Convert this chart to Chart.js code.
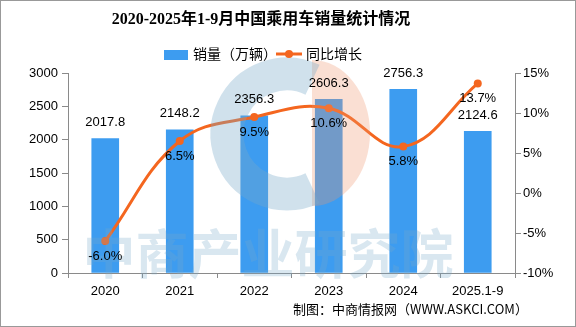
<!DOCTYPE html>
<html lang="zh">
<head>
  <meta charset="UTF-8" />
  <title>2020-2025年1-9月中国乘用车销量统计情况</title>
  <script src="https://cdn.jsdelivr.net/npm/chart.js"></script>
  <style>
    html, body { margin: 0; padding: 0; background: #fff; }
    #wrap { width: 576px; height: 327px; position: relative; }
  </style>
</head>
<body>
  <div id="wrap"><canvas id="chart"></canvas></div>

  <script>
    const years = ['2020', '2021', '2022', '2023', '2024', '2025.1-9'];
    const sales = [2017.8, 2148.2, 2356.3, 2606.3, 2756.3, 2124.6];
    const growth = [-6.0, 6.5, 9.5, 10.6, 5.8, 13.7];
    const leftTicks = [0, 500, 1000, 1500, 2000, 2500, 3000];
    const rightTicks = [-10, -5, 0, 5, 10, 15];

    const BLUE = '#3d9cf0';
    const ORANGE = '#f4661f';
    const AXIS = '#8a8a8a';
    const TXT = "13px 'Liberation Sans', 'Noto Sans CJK SC'";

    // title, legend, watermark, labels, source text
    const decor = {
      id: 'decor',
      afterDatasetsDraw(chart) {
        const ctx = chart.ctx;
        ctx.save();
        // logo watermark
        ctx.fillStyle = 'rgba(240,150,110,0.3)';
        ctx.beginPath();
        ctx.ellipse(312, 133, 58, 73, 0, -Math.PI / 2, Math.PI / 2);
        ctx.closePath();
        ctx.fill();
        ctx.strokeStyle = 'rgba(120,170,200,0.35)';
        ctx.lineWidth = 33;
        ctx.beginPath();
        ctx.arc(287, 134, 60, -Math.PI * 0.36, Math.PI * 0.36, true);
        ctx.stroke();
        // text watermark
        ctx.fillStyle = 'rgba(120,170,200,0.28)';
        ctx.font = "bold 53px 'Noto Sans CJK SC'";
        ctx.textAlign = 'center';
        ctx.textBaseline = 'middle';
        ctx.fillText('中商产业研究院', 268, 254);
        ctx.restore();
      },
      afterDraw(chart) {
        const ctx = chart.ctx;
        ctx.save();
        ctx.fillStyle = '#000';
        ctx.textAlign = 'center';
        ctx.textBaseline = 'middle';
        ctx.font = TXT;
        chart.getDatasetMeta(1).data.forEach((el, i) => {
          ctx.fillText(sales[i].toFixed(1), el.x, el.y - 16);
        });
        chart.getDatasetMeta(0).data.forEach((el, i) => {
          ctx.fillText(growth[i].toFixed(1) + '%', el.x, el.y + 15);
        });

        // title
        ctx.font = "bold 16px 'Liberation Serif', 'Noto Sans CJK SC'";
        ctx.fillText('2020-2025年1-9月中国乘用车销量统计情况', 261, 20);

        // legend
        ctx.fillStyle = BLUE;
        ctx.fillRect(164, 50, 24, 10);
        ctx.fillStyle = '#000';
        ctx.font = "14px 'Noto Sans CJK SC'";
        ctx.textAlign = 'left';
        ctx.fillText('销量（万辆）', 193, 54);
        ctx.strokeStyle = ORANGE;
        ctx.lineWidth = 3;
        ctx.beginPath();
        ctx.moveTo(276, 54);
        ctx.lineTo(302, 54);
        ctx.stroke();
        ctx.fillStyle = ORANGE;
        ctx.beginPath();
        ctx.arc(289, 54, 4, 0, Math.PI * 2);
        ctx.fill();
        ctx.fillStyle = '#000';
        ctx.fillText('同比增长', 306, 54);

        // source
        ctx.font = "13px 'Noto Sans CJK SC'";
        ctx.fillText('制图：中商情报网（WWW.ASKCI.COM）', 293, 309);

        // frame
        ctx.strokeStyle = '#999';
        ctx.lineWidth = 1;
        ctx.strokeRect(0.5, 0.5, 575, 326);
        ctx.restore();
      }
    };

    new Chart(document.getElementById('chart'), {
      data: {
        labels: years,
        datasets: [
          {
            type: 'line',
            label: '同比增长',
            data: growth,
            yAxisID: 'y1',
            borderColor: ORANGE,
            backgroundColor: ORANGE,
            borderWidth: 3,
            pointRadius: 4,
            pointBackgroundColor: ORANGE,
            pointBorderWidth: 0,
            tension: 0.4,
            order: 0
          },
          {
            type: 'bar',
            label: '销量（万辆）',
            data: sales,
            yAxisID: 'y',
            backgroundColor: BLUE,
            barThickness: 27,
            order: 1
          }
        ]
      },
      options: {
        responsive: true,
        maintainAspectRatio: false,
        animation: false,
        layout: { padding: { top: 73, left: 0, right: 0, bottom: 0 } },
        plugins: {
          legend: { display: false },
          title: { display: false },
          tooltip: { enabled: false }
        },
        scales: {
          x: {
            offset: true,
            grid: { display: true, drawOnChartArea: false, tickLength: 5, color: AXIS, offset: true },
            border: { color: AXIS },
            ticks: { color: '#000', font: { family: "'Liberation Sans'", size: 13 }, padding: 6, maxRotation: 0 },
            afterFit: s => { s.height = 54; }
          },
          y: {
            position: 'left',
            min: 0, max: 3000,
            afterBuildTicks: s => { s.ticks = leftTicks.map(v => ({ value: v })); },
            grid: { display: true, drawOnChartArea: false, tickLength: 6, color: AXIS },
            border: { color: AXIS },
            ticks: { color: '#000', font: { family: "'Liberation Sans'", size: 13 }, padding: 4, callback: v => String(v) },
            afterFit: s => { s.width = 68; }
          },
          y1: {
            position: 'right',
            min: -10, max: 15,
            afterBuildTicks: s => { s.ticks = rightTicks.map(v => ({ value: v })); },
            grid: { display: true, drawOnChartArea: false, tickLength: 6, color: AXIS },
            border: { color: AXIS },
            ticks: { color: '#000', font: { family: "'Liberation Sans'", size: 13 }, padding: 2, callback: v => v + '%' },
            afterFit: s => { s.width = 61; }
          }
        }
      },
      plugins: [decor]
    });
  </script>
</body>
</html>
